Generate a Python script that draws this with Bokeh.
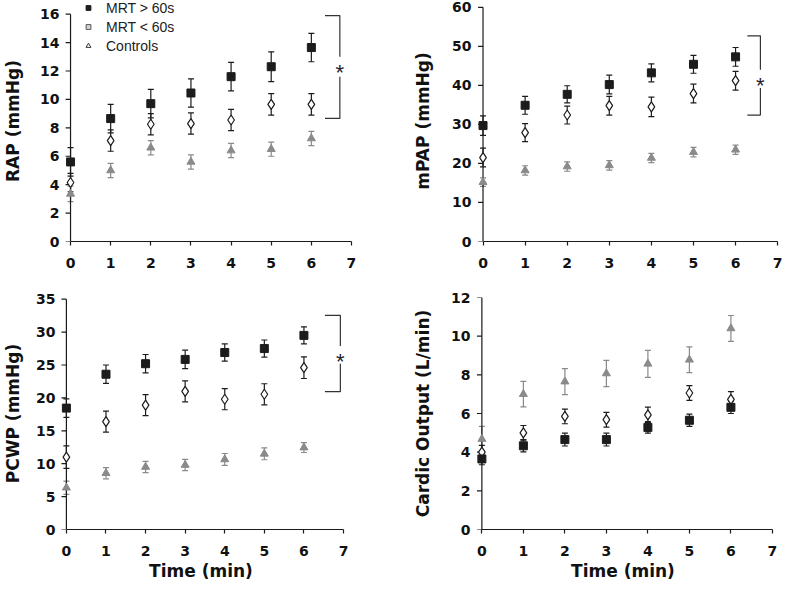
from bokeh.plotting import figure
from bokeh.models import (ColumnDataSource, Whisker, TeeHead, FixedTicker, Range1d,
                          Legend, LegendItem)
from bokeh.layouts import column, row
from bokeh.embed import file_html
from bokeh.resources import INLINE
from bokeh.core.properties import value

# ---------------- data ----------------
time = [0, 1, 2, 3, 4, 5, 6]
x_ticks = [0, 1, 2, 3, 4, 5, 6, 7]

legend_labels = ["MRT > 60s", "MRT < 60s", "Controls"]

# RAP (mmHg)
rap_hi = [5.6, 8.65, 9.7, 10.45, 11.6, 12.3, 13.65]
rap_hi_err = [1.0, 1.0, 1.0, 1.0, 1.0, 1.05, 1.0]
rap_lo = [4.15, 7.1, 8.25, 8.3, 8.55, 9.65, 9.65]
rap_lo_err = [0.65, 0.75, 0.75, 0.75, 0.75, 0.75, 0.75]
rap_ctl = [3.35, 5.0, 6.6, 5.6, 6.4, 6.5, 7.25]
rap_ctl_err = [0.55, 0.5, 0.5, 0.5, 0.5, 0.5, 0.5]
rap_ticks = [0, 2, 4, 6, 8, 10, 12, 14, 16]

# mPAP (mmHg)
mpap_hi = [29.7, 34.9, 37.7, 40.2, 43.2, 45.4, 47.3]
mpap_hi_err = [2.5, 2.3, 2.2, 2.4, 2.3, 2.3, 2.4]
mpap_lo = [21.5, 27.9, 32.4, 34.8, 34.5, 37.9, 41.2]
mpap_lo_err = [2.4, 2.3, 2.3, 2.4, 2.5, 2.4, 2.4]
mpap_ctl = [15.2, 18.2, 19.2, 19.5, 21.4, 22.9, 23.5]
mpap_ctl_err = [1.1, 1.2, 1.2, 1.2, 1.2, 1.2, 1.2]
mpap_ticks = [0, 10, 20, 30, 40, 50, 60]

# PCWP (mmHg)
pcwp_hi = [18.45, 23.6, 25.2, 25.85, 26.9, 27.5, 29.5]
pcwp_hi_err = [1.4, 1.4, 1.4, 1.4, 1.3, 1.3, 1.3]
pcwp_lo = [11.0, 16.4, 18.9, 21.0, 19.8, 20.55, 24.6]
pcwp_lo_err = [1.7, 1.6, 1.6, 1.6, 1.6, 1.6, 1.65]
pcwp_ctl = [6.35, 8.55, 9.5, 9.8, 10.65, 11.5, 12.45]
pcwp_ctl_err = [1.0, 0.85, 0.85, 0.85, 0.9, 0.9, 0.75]
pcwp_ticks = [0, 5, 10, 15, 20, 25, 30, 35]

# Cardiac output (L/min)
co_hi = [3.65, 4.33, 4.65, 4.65, 5.28, 5.65, 6.32]
co_hi_err = [0.3, 0.32, 0.33, 0.33, 0.3, 0.32, 0.32]
co_lo = [4.0, 5.0, 5.85, 5.68, 5.93, 7.06, 6.73]
co_lo_err = [0.35, 0.38, 0.38, 0.38, 0.4, 0.38, 0.4]
co_ctl = [4.68, 7.0, 7.65, 8.07, 8.57, 8.78, 10.4]
co_ctl_err = [0.65, 0.66, 0.67, 0.68, 0.7, 0.67, 0.67]
co_ticks = [0, 2, 4, 6, 8, 10, 12]

# significance brackets: [x_start, x_line, top, gap_top, gap_bottom, bottom, star_y]
rap_bracket = [6.34, 6.71, 15.9, 13.0, 11.6, 8.66, 12.35]
mpap_bracket = [6.28, 6.59, 52.7, 44.0, 39.3, 32.4, 41.6]
pcwp_bracket = [6.53, 6.92, 32.55, 27.9, 25.2, 20.95, 26.5]

# ---------------- styling ----------------
AX_COLOR = "#1a1a1a"
BLACK = "#1c1c1c"
GRAY = "#8a8a8a"
TICK_FONT = "DejaVu Sans"
X_START = -0.25


def make_panel(width, height, borders, x_end, y_end, y_max, y_ticks, ylabel, label_standoff,
               xlabel, hi, hi_err, lo, lo_err, ctl, ctl_err, bracket=None):
    left, right, top, bottom = borders
    p = figure(width=width, height=height, x_range=Range1d(X_START, x_end),
               y_range=Range1d(0, y_end), output_backend="svg",
               toolbar_location=None, min_border=0,
               min_border_left=left, min_border_right=right,
               min_border_top=top, min_border_bottom=bottom)
    p.outline_line_color = None
    p.xgrid.visible = False
    p.ygrid.visible = False
    p.background_fill_color = "white"
    p.border_fill_color = "white"

    for ax in (p.xaxis[0], p.yaxis[0]):
        ax.minor_tick_line_color = None
        ax.major_tick_in = 0
        ax.major_label_text_font = TICK_FONT
        ax.major_label_text_font_style = "bold"
        ax.major_label_text_font_size = "14px"
        ax.major_label_text_color = "#111111"
        ax.axis_label_text_font = TICK_FONT
        ax.axis_label_text_font_style = "bold"
        ax.axis_label_text_font_size = "17px"
        ax.axis_label_text_color = "#111111"

    xa = p.xaxis[0]
    xa.ticker = FixedTicker(ticks=x_ticks)
    xa.bounds = (0, 7)
    xa.axis_line_color = AX_COLOR
    xa.axis_line_width = 1.2
    xa.major_tick_line_color = AX_COLOR
    xa.major_tick_line_width = 1.2
    xa.major_tick_out = 4
    xa.major_label_standoff = 12
    xa.axis_label = xlabel
    xa.axis_label_standoff = 2

    # y axis: labels from the axis, line and ticks drawn at x = 0
    ya = p.yaxis[0]
    ya.ticker = FixedTicker(ticks=y_ticks)
    ya.axis_line_color = None
    ya.major_tick_line_color = None
    ya.major_tick_out = 0
    ya.major_label_standoff = 1
    ya.axis_label = ylabel
    ya.axis_label_standoff = label_standoff

    frame_w = width - left - right
    tick_len = 5.0 * (x_end - X_START) / frame_w
    p.segment(x0=[0], y0=[0], x1=[0], y1=[y_max], line_color=AX_COLOR, line_width=1.2)
    p.segment(x0=[0] * len(y_ticks), y0=y_ticks, x1=[-tick_len] * len(y_ticks), y1=y_ticks,
              line_color=AX_COLOR, line_width=1.2)

    series = [
        (ctl, ctl_err, GRAY, dict(marker="triangle", size=8, fill_color=GRAY, line_color=GRAY)),
        (lo, lo_err, BLACK, dict(marker="diamond", size=10, fill_color="white", line_color=BLACK, line_width=1.2)),
        (hi, hi_err, BLACK, dict(marker="square", size=8, fill_color=BLACK, line_color=BLACK)),
    ]
    for vals, errs, ecol, mk in series:
        src = ColumnDataSource(dict(
            x=time, y=vals,
            upper=[v + e for v, e in zip(vals, errs)],
            lower=[v - e for v, e in zip(vals, errs)]))
        w = Whisker(base="x", upper="upper", lower="lower", source=src,
                    line_color=ecol, line_width=1.2,
                    upper_head=TeeHead(size=6, line_color=ecol, line_width=1.2),
                    lower_head=TeeHead(size=6, line_color=ecol, line_width=1.2))
        p.add_layout(w)
        p.scatter("x", "y", source=src, **mk)

    if bracket is not None:
        x0, xl, ytop, gtop, gbot, ybot, sy = bracket
        p.line([x0, xl, xl], [ytop, ytop, gtop], line_color="#333333", line_width=1.2)
        p.line([xl, xl, x0], [gbot, ybot, ybot], line_color="#333333", line_width=1.2)
        p.text(x=[xl], y=[sy], text=["*"], text_font=value("Liberation Sans"),
               text_font_size="22px", text_align="center", text_baseline="middle",
               text_color="#222233", y_offset=6)
    return p


p1 = make_panel(410, 290, (56, 57, 0, 49), 7.05, 16.96, 16, rap_ticks, "RAP (mmHg)", 14, None,
                rap_hi, rap_hi_err, rap_lo, rap_lo_err, rap_ctl, rap_ctl_err, rap_bracket)
p2 = make_panel(374, 290, (58, 6, 0, 49), 7.02, 61.74, 60, mpap_ticks, "mPAP (mmHg)", 16, None,
                mpap_hi, mpap_hi_err, mpap_lo, mpap_lo_err, mpap_ctl, mpap_ctl_err, mpap_bracket)
p3 = make_panel(410, 295, (52, 65, 7, 56), 7.05, 35.26, 35, pcwp_ticks, "PCWP (mmHg)", 10, "Time (min)",
                pcwp_hi, pcwp_hi_err, pcwp_lo, pcwp_lo_err, pcwp_ctl, pcwp_ctl_err, pcwp_bracket)
p4 = make_panel(374, 295, (57, 10, 7, 56), 7.05, 12.0, 12, co_ticks, "Cardic Output (L/min)", 15, "Time (min)",
                co_hi, co_hi_err, co_lo, co_lo_err, co_ctl, co_ctl_err, None)

# legend (in the first panel); the legend renderers hold one point outside the view
nan = float("nan")
leg_hi = p1.scatter([nan], [nan], marker="square", fill_color=BLACK, line_color=BLACK)
leg_lo = p1.scatter([nan], [nan], marker="square", fill_color="#d4d4d4", line_color="#555555")
leg_ctl = p1.scatter([nan], [nan], marker="triangle", fill_color="white", line_color="#333333")
legend = Legend(items=[LegendItem(label=legend_labels[0], renderers=[leg_hi]),
                       LegendItem(label=legend_labels[1], renderers=[leg_lo]),
                       LegendItem(label=legend_labels[2], renderers=[leg_ctl])],
                location=(22, 186), padding=0, margin=0, spacing=0,
                glyph_width=12, glyph_height=19, label_height=19, label_standoff=12,
                label_text_font="Liberation Sans", label_text_font_size="14px",
                label_text_color="#222222",
                background_fill_alpha=0, border_line_color=None)
p1.add_layout(legend)

layout = column(row(p1, p2), row(p3, p4))
open("out.html", "w").write(file_html(layout, INLINE))
